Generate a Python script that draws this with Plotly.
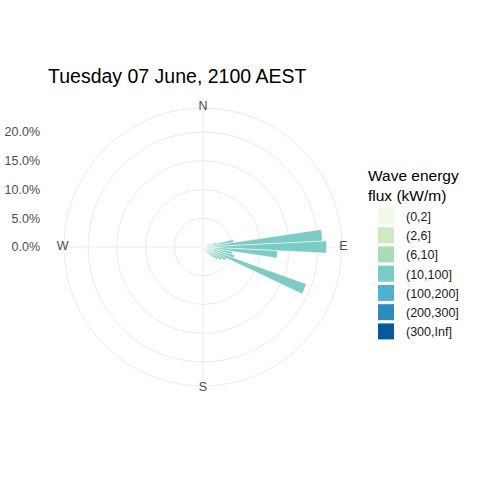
import plotly.graph_objects as go

# ---- data ----
categories = ["(0,2]", "(2,6]", "(6,10]", "(10,100]", "(100,200]", "(200,300]", "(300,Inf]"]
category_colors = ["#F0F9E8", "#CCEBC5", "#A8DDB5", "#7BCCC4", "#4EB3D3", "#2B8CBE", "#08589E"]

direction_deg = [61.875, 67.5, 73.125, 78.75, 84.375, 90.0, 95.625, 101.25,
                 106.875, 112.5, 118.125, 123.75, 129.375, 135.0, 140.625, 146.25]
percent = [0.9, 1.4, 2.4, 5.4, 20.8, 21.5, 13.0, 5.2,
           5.7, 19.1, 4.5, 3.8, 3.3, 2.4, 1.6, 0.9]
flux_class = ["(10,100]"] * len(direction_deg)

radial_ticks = [0, 5, 10, 15, 20]
radial_ticktext = [f"{v:.1f}%" for v in radial_ticks]
compass_deg = [0, 90, 180, 270]
compass_text = ["N", "E", "S", "W"]

title_text = "Tuesday 07 June, 2100 AEST"
legend_title = "Wave energy<br>flux (kW/m)"
bin_width = 5.625

# ---- geometry (ggplot polar: data max at 0.4, outer circle at 0.45) ----
R_outer = max(percent) * 1.125
R_label = R_outer * 1.01
W = H = 480
cx, cy, rad_outer = 203, 247, 139
rad = rad_outer * R_label / R_outer
dom_x = [(cx - rad) / W, (cx + rad) / W]
dom_y = [(H - cy - rad) / H, (H - cy + rad) / H]
FONT = "Liberation Sans"

fig = go.Figure()

for cat, col in zip(categories, category_colors):
    th = [d for d, c in zip(direction_deg, flux_class) if c == cat]
    rr = [p for p, c in zip(percent, flux_class) if c == cat]
    if th:
        fig.add_trace(go.Barpolar(
            theta=th, r=rr, width=[bin_width] * len(th),
            marker=dict(color=col, line=dict(color="white", width=0.5)),
            name=cat, showlegend=False, hoverinfo="skip"))

# legend keys
for cat, col in zip(categories, category_colors):
    fig.add_trace(go.Scatterpolar(
        r=[None], theta=[None], mode="markers", name=cat,
        marker=dict(symbol="square", size=16, color=col, line=dict(width=0)),
        showlegend=True, hoverinfo="skip"))

# compass labels
fig.add_trace(go.Scatterpolar(
    r=[R_label] * 4, theta=compass_deg, text=compass_text, mode="text",
    textposition="middle center",
    textfont=dict(family=FONT, size=12.5, color="#4D4D4D"),
    cliponaxis=False, showlegend=False, hoverinfo="skip"))

# dummy trace to carry the left radial label axis
fig.add_trace(go.Scatter(x=[None], y=[None], showlegend=False, hoverinfo="skip"))

fig.update_layout(
    width=W, height=H, margin=dict(l=0, r=0, t=0, b=0),
    paper_bgcolor="white", plot_bgcolor="rgba(0,0,0,0)",
    title=dict(text=title_text, x=48 / W, xanchor="left", y=1 - 76 / H, yanchor="middle",
               xref="paper", yref="paper",
               font=dict(family=FONT, size=19.5, color="black")),
    polar=dict(
        domain=dict(x=dom_x, y=dom_y),
        bgcolor="rgba(0,0,0,0)",
        radialaxis=dict(range=[0, R_label], tickvals=radial_ticks[1:] + [R_outer],
                        showticklabels=False, ticks="", showline=False,
                        gridcolor="#EBEBEB", gridwidth=1),
        angularaxis=dict(rotation=90, direction="clockwise", tickvals=compass_deg,
                         showticklabels=False, ticks="", showline=False,
                         gridcolor="#EBEBEB", gridwidth=1),
    ),
    xaxis=dict(domain=[41 / W, 43 / W], visible=False),
    yaxis=dict(domain=[(H - cy - rad_outer) / H, (H - cy + rad_outer) / H],
               range=[-R_outer, R_outer], tickvals=radial_ticks, ticktext=radial_ticktext,
               showgrid=False, zeroline=False, showline=False, ticks="",
               tickfont=dict(family=FONT, size=12.5, color="#4D4D4D")),
    legend=dict(x=366 / W, xanchor="left", y=1 - 161 / H, yanchor="top",
                bgcolor="rgba(0,0,0,0)", tracegroupgap=0,
                title=dict(text=legend_title, font=dict(family=FONT, size=15.5, color="black")),
                font=dict(family=FONT, size=12.5, color="#1A1A1A")),
)

fig.write_html("out.html")
